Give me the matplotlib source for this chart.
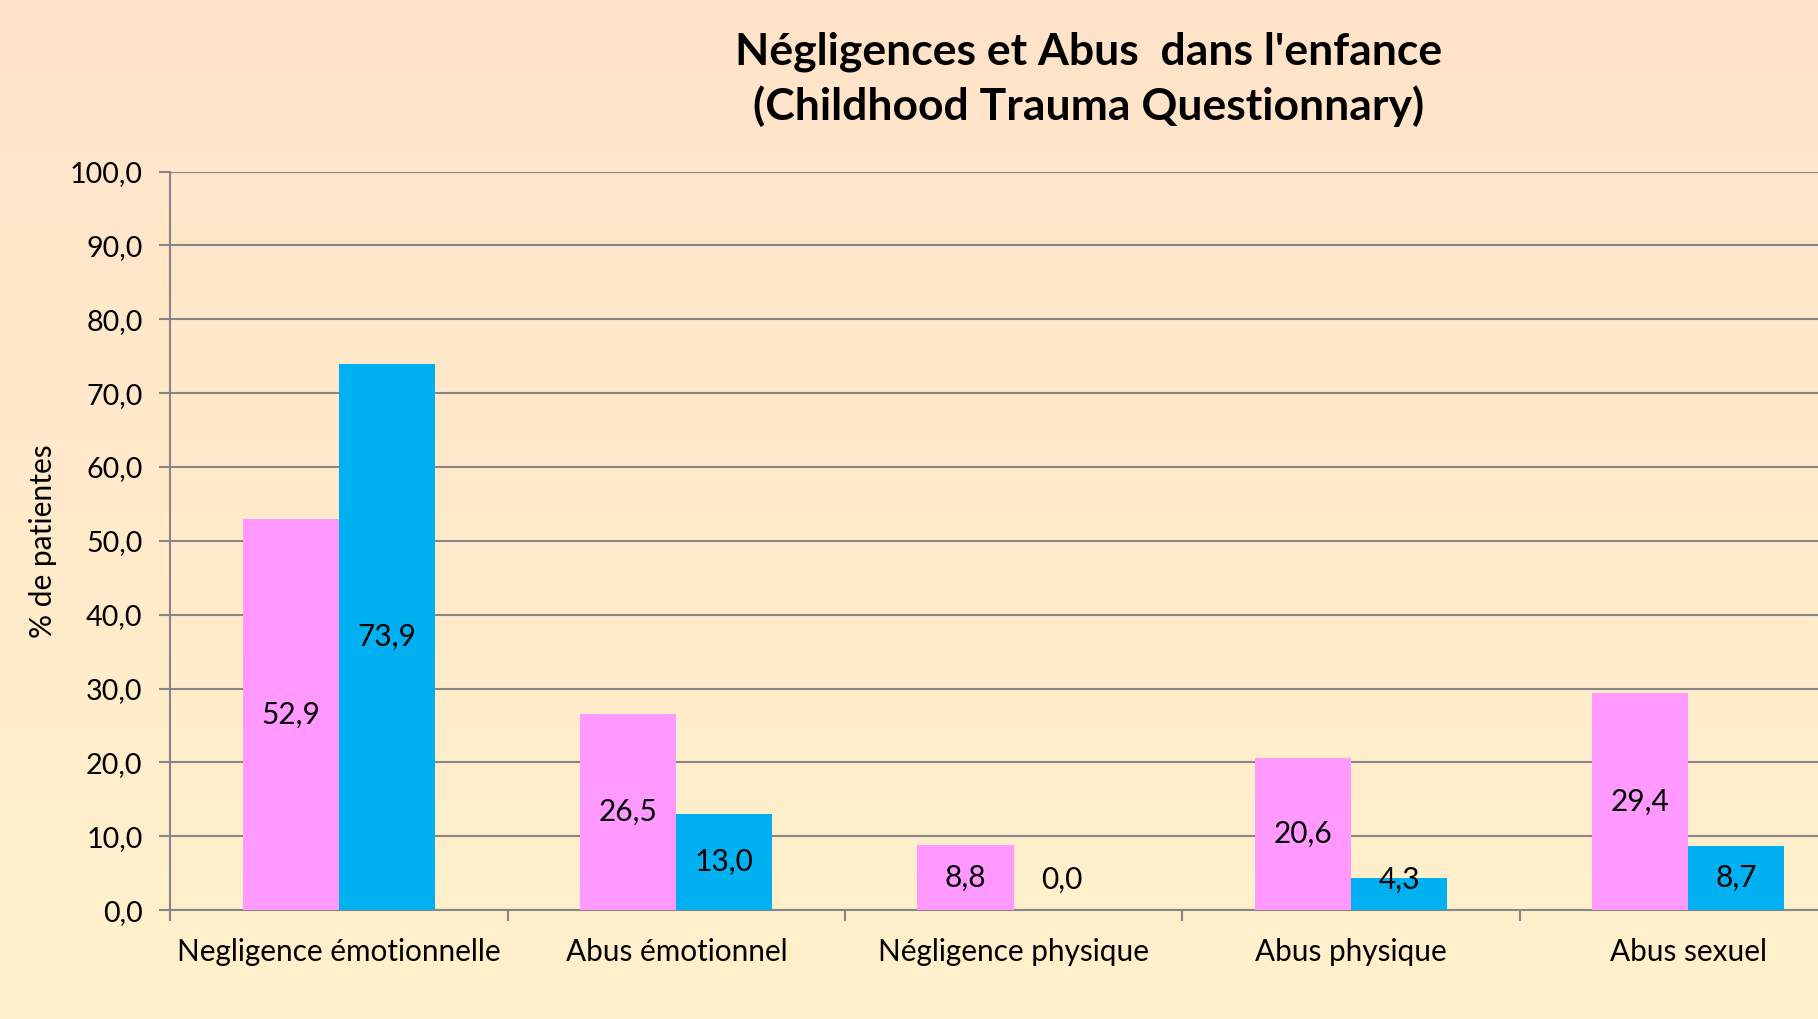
import numpy as np
import matplotlib
matplotlib.use("Agg")
import matplotlib.pyplot as plt
from matplotlib.colors import LinearSegmentedColormap

categories = ["Negligence émotionnelle", "Abus émotionnel", "Négligence physique",
              "Abus physique", "Abus sexuel"]
series_pink = [52.9, 26.5, 8.8, 20.6, 29.4]
series_blue = [73.9, 13.0, 0.0, 4.3, 8.7]
yticks = [0, 10, 20, 30, 40, 50, 60, 70, 80, 90, 100]
title = "Négligences et Abus  dans l'enfance\n(Childhood Trauma Questionnary)"
ylabel = "% de patientes"

FONT = ["Lato", "DejaVu Sans"]
plt.rcParams['font.family'] = FONT

W, H = 1818, 1019
fig = plt.figure(figsize=(W / 100, H / 100), dpi=100)

# background gradient
bg = fig.add_axes([0, 0, 1, 1], zorder=-10)
cmap = LinearSegmentedColormap.from_list("bg", ["#FFE3C9", "#FFF1CC"])
grad = np.linspace(0, 1, 256).reshape(-1, 1)
bg.imshow(grad, aspect="auto", cmap=cmap, extent=[0, 1, 0, 1], origin="upper")
bg.axis("off")

ax = fig.add_axes([0.0937, 0.1069, 0.9277, 0.7247])
ax.patch.set_alpha(0)

x = np.arange(len(categories))
bw = 0.285
pink = "#FF99FF"
blue = "#00B0F0"
ax.bar(x - bw / 2, series_pink, width=bw, color=pink, zorder=3)
ax.bar(x + bw / 2, series_blue, width=bw, color=blue, zorder=3)

def lab(v):
    return f"{v:.1f}".replace(".", ",")

minlab = 4.1
for xi, v in zip(x - bw / 2, series_pink):
    ax.text(xi, max(v / 2, minlab), lab(v), ha="center", va="center", fontsize=21.5, zorder=4)
for xi, v in zip(x + bw / 2, series_blue):
    ax.text(xi, max(v / 2, minlab), lab(v), ha="center", va="center", fontsize=21.5, zorder=4)

ax.set_xlim(-0.5, len(categories) - 0.5)
ax.set_ylim(0, 100)
ax.set_yticks(yticks)
ax.set_yticklabels([lab(t) for t in yticks], fontsize=20.7)
ax.yaxis.grid(True, color="#868686", linewidth=1.5, zorder=1)
ax.set_axisbelow(True)

ax.set_xticks(np.arange(-0.5, len(categories) - 0.4, 1.0))
ax.set_xticklabels([])
ax.set_xticks(x, minor=True)
ax.set_xticklabels(categories, minor=True, fontsize=21.4)
ax.tick_params(axis="x", which="minor", length=0, pad=20)
ax.tick_params(axis="x", which="major", length=8, width=1.5, color="#868686", direction="out")
ax.tick_params(axis="y", length=8, width=1.5, color="#868686", pad=12)

for s in ["top", "right"]:
    ax.spines[s].set_visible(False)
for s in ["left", "bottom"]:
    ax.spines[s].set_color("#868686")
    ax.spines[s].set_linewidth(1.5)

fig.text(0.599, 0.922, title, ha="center", va="center", fontsize=32,
         fontweight="bold", linespacing=1.38)
fig.text(0.0236, 0.469, ylabel, rotation=90, ha="center", va="center", fontsize=21.6)

fig.savefig("out.png", dpi=100)
